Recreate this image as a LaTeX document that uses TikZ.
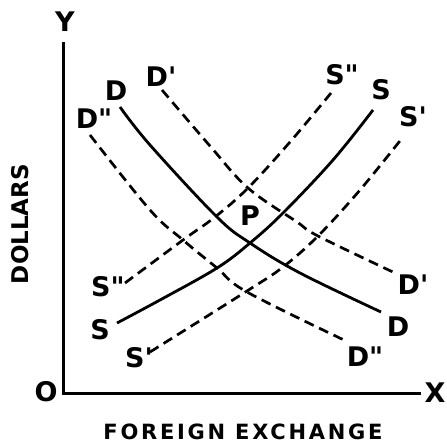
\documentclass[tikz,border=0pt]{standalone}
\usepackage{fontspec}
\setmainfont{DejaVu Sans}
\newfontfamily\labfont{DejaVu Sans Bold}
\newcommand{\myPr}{\textquotesingle}
\newcommand{\myPPr}{\textquotedbl}
\begin{document}
\begin{tikzpicture}[x=1pt,y=-1pt,
  lab/.style={font=\labfont\fontsize{27}{27}\selectfont, inner sep=0pt},
  axis/.style={line width=3pt},
  solidcurve/.style={line width=2.8pt},
  dashcurve/.style={line width=2.7pt, dash pattern=on 10pt off 6pt}]
\useasboundingbox (0,0) rectangle (446,446);
% axes
\coordinate (top) at (63,42);
\coordinate (orig) at (63,393);
\coordinate (right) at (421,393);
\draw[axis] (top) -- (orig) -- (right);
\node[lab] (ylab) at (65,22) {Y};
\node[lab] (xlab) at (435,393) {X};
\node[lab] (olab) at (46,392) {O};
\node[lab, rotate=90, font=\labfont\fontsize{23}{23}\selectfont] (dollars) at (20,224) {DOLLARS};
\node[lab, font=\labfont\fontsize{21}{21}\addfontfeatures{LetterSpace=13}\selectfont] (fx) at (243,432) {FOREIGN EXCHANGE};
% demand curves
\draw[solidcurve] plot[smooth, tension=0.6] coordinates {(120,107) (150,145) (217,217) (250,243) (300,273) (381,312)};
\draw[dashcurve] plot[smooth, tension=0.6] coordinates {(162,90) (210,146) (248,188) (297,222) (318,236) (395,273)};
\draw[dashcurve] plot[smooth, tension=0.6] coordinates {(90,135) (150,210) (183,240) (217,268) (247,292) (346,341)};
% supply curves
\draw[solidcurve] plot[smooth, tension=0.6] coordinates {(117,323) (160,300) (217,268) (250,243) (283,213) (333,160) (373,110)};
\draw[dashcurve] plot[smooth, tension=0.6] coordinates {(125,283) (183,240) (215,217) (248,188) (290,142) (331,93)};
\draw[dashcurve] plot[smooth, tension=0.6] coordinates {(150,352) (247,291) (283,267) (318,236) (360,190) (403,137)};
% labels
\node[lab] (dT) at (116,91) {D};
\node[lab] (d1T) at (161,77) {D\myPr};
\node[lab] (d2T) at (94,119) {D\myPPr};
\node[lab] (sT) at (381,90) {S};
\node[lab] (s1T) at (413,117) {S\myPr};
\node[lab] (s2T) at (342,75) {S\myPPr};
\node[lab] (sB) at (100,330) {S};
\node[lab] (s1B) at (139,358) {S\myPr};
\node[lab] (s2B) at (108,287) {S\myPPr};
\node[lab] (dB) at (398,327) {D};
\node[lab] (d1B) at (413,285) {D\myPr};
\node[lab] (d2B) at (365,357) {D\myPPr};
\node[lab] (p) at (250,216) {P};
\end{tikzpicture}
\end{document}
